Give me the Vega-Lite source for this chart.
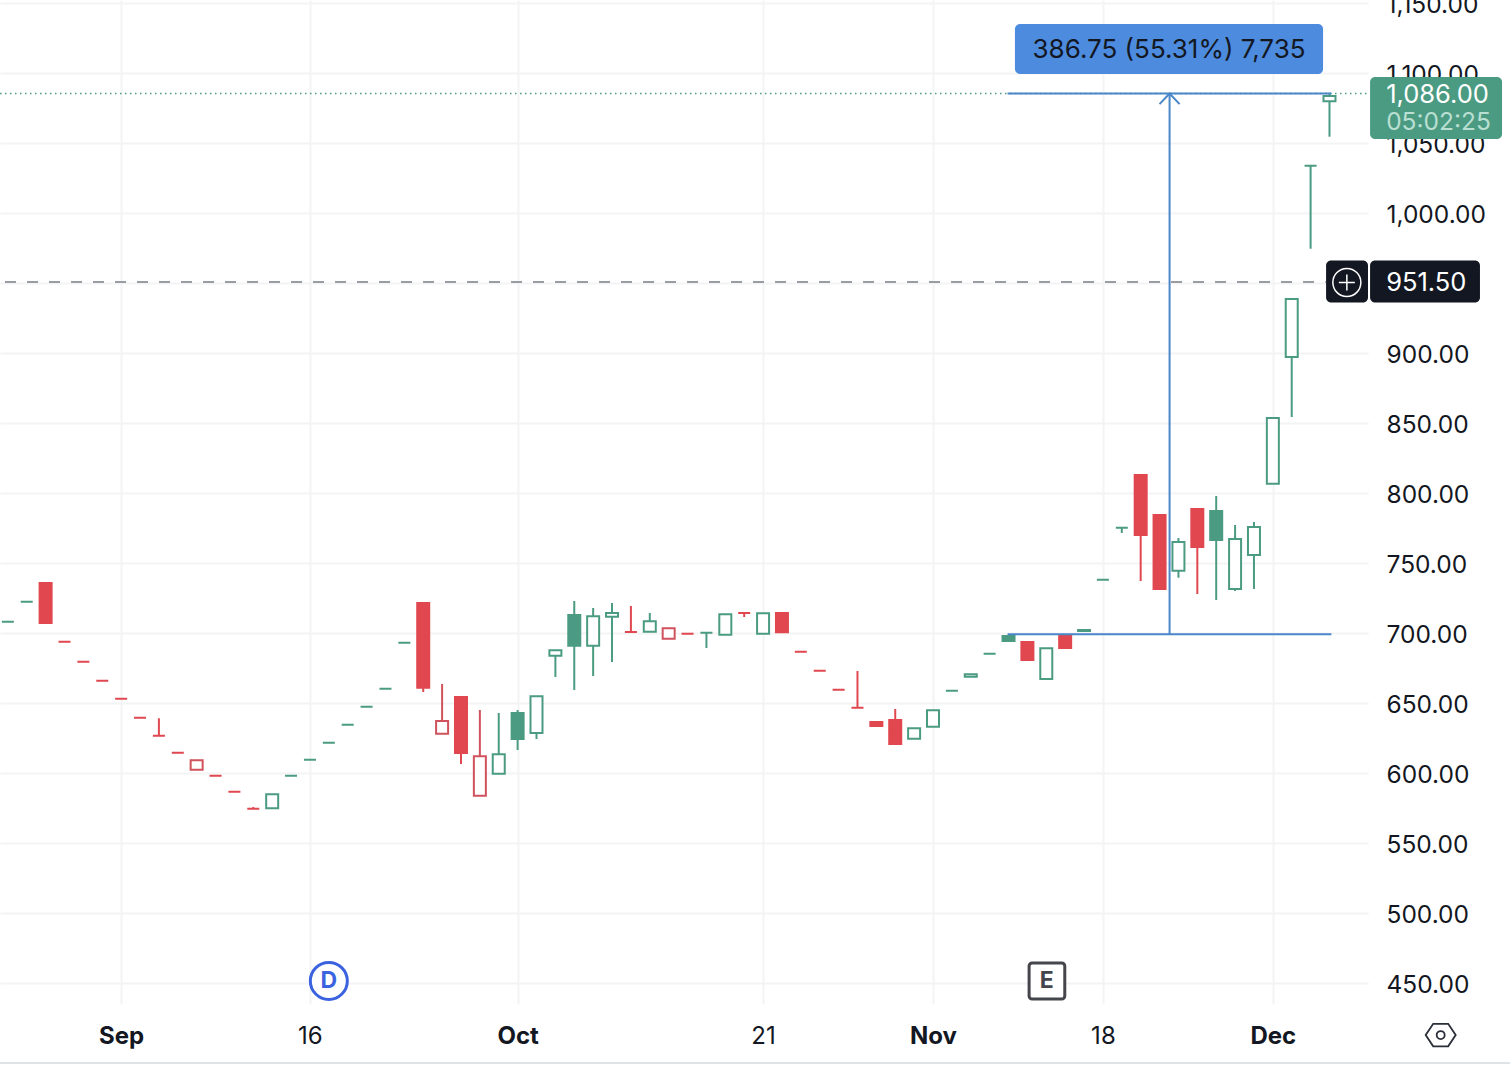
{"$schema":"https://vega.github.io/schema/vega-lite/v6.json","width":1368,"height":1004,"autosize":{"type":"none"},"padding":{"left":0,"top":0,"right":142,"bottom":72},"background":"#ffffff","config":{"view":{"stroke":null},"font":"Inter"},
"resolve":{"scale":{"color":"independent","fill":"independent","stroke":"independent"}},
"datasets":{"candles":[
{"i":0,"open":708.3,"close":708.3,"high":708.3,"low":708.3,"kind":"up-solid"},
{"i":1,"open":722.5,"close":722.5,"high":722.5,"low":722.5,"kind":"up-solid"},
{"i":2,"open":736,"close":707.4,"high":736,"low":707.4,"kind":"down-solid"},
{"i":3,"open":694,"close":694,"high":694,"low":694,"kind":"down-solid"},
{"i":4,"open":679.7,"close":679.7,"high":679.7,"low":679.7,"kind":"down-solid"},
{"i":5,"open":666.15,"close":666.15,"high":666.15,"low":666.15,"kind":"down-solid"},
{"i":6,"open":653.3,"close":653.3,"high":653.3,"low":653.3,"kind":"down-solid"},
{"i":7,"open":639.7,"close":639.7,"high":639.7,"low":639.7,"kind":"down-solid"},
{"i":8,"open":626.85,"close":626.85,"high":639.3,"low":626.85,"kind":"down-solid"},
{"i":9,"open":614.7,"close":614.7,"high":614.7,"low":614.7,"kind":"down-solid"},
{"i":10,"open":602.55,"close":609.3,"high":609.3,"low":602.55,"kind":"down-hollow"},
{"i":11,"open":598.3,"close":598.3,"high":598.3,"low":598.3,"kind":"down-solid"},
{"i":12,"open":586.85,"close":586.85,"high":586.85,"low":586.85,"kind":"down-solid"},
{"i":13,"open":574.7,"close":574.7,"high":575.9,"low":574.7,"kind":"down-solid"},
{"i":14,"open":575,"close":585,"high":585,"low":575,"kind":"up-hollow"},
{"i":15,"open":598.3,"close":598.3,"high":598.3,"low":598.3,"kind":"up-solid"},
{"i":16,"open":609.7,"close":609.7,"high":609.7,"low":609.7,"kind":"up-solid"},
{"i":17,"open":621.85,"close":621.85,"high":621.85,"low":621.85,"kind":"up-solid"},
{"i":18,"open":634.7,"close":634.7,"high":634.7,"low":634.7,"kind":"up-solid"},
{"i":19,"open":647.55,"close":647.55,"high":647.55,"low":647.55,"kind":"up-solid"},
{"i":20,"open":660.45,"close":660.45,"high":660.45,"low":660.45,"kind":"up-solid"},
{"i":21,"open":693.3,"close":693.3,"high":693.3,"low":693.3,"kind":"up-solid"},
{"i":22,"open":721.65,"close":661.15,"high":721.65,"low":658.05,"kind":"down-solid"},
{"i":23,"open":628.3,"close":637.35,"high":663.8,"low":628.3,"kind":"down-hollow"},
{"i":24,"open":654.5,"close":614.5,"high":654.5,"low":606.65,"kind":"down-solid"},
{"i":25,"open":584,"close":612.15,"high":645.2,"low":584,"kind":"down-hollow"},
{"i":26,"open":599.7,"close":613.55,"high":643.05,"low":599.7,"kind":"up-hollow"},
{"i":27,"open":643.05,"close":624.5,"high":645.2,"low":616.65,"kind":"up-solid"},
{"i":28,"open":628.8,"close":655,"high":655,"low":624.5,"kind":"up-hollow"},
{"i":29,"open":684,"close":687.85,"high":687.85,"low":668.8,"kind":"up-hollow"},
{"i":30,"open":713.05,"close":691.15,"high":723.05,"low":659.5,"kind":"up-solid"},
{"i":31,"open":691.15,"close":712.15,"high":718.05,"low":669.5,"kind":"up-hollow"},
{"i":32,"open":711.85,"close":714.5,"high":721.65,"low":679.5,"kind":"up-hollow"},
{"i":33,"open":700.95,"close":700.95,"high":719.5,"low":700.95,"kind":"down-solid"},
{"i":34,"open":701.15,"close":708.55,"high":714.5,"low":701.15,"kind":"up-hollow"},
{"i":35,"open":696.15,"close":703.55,"high":703.55,"low":696.15,"kind":"down-hollow"},
{"i":36,"open":699.7,"close":699.7,"high":699.7,"low":699.7,"kind":"down-solid"},
{"i":37,"open":700.45,"close":700.45,"high":700.45,"low":689.5,"kind":"up-solid"},
{"i":38,"open":699,"close":713.55,"high":713.55,"low":699,"kind":"up-hollow"},
{"i":39,"open":714.5,"close":714.5,"high":714.5,"low":711.65,"kind":"down-solid"},
{"i":40,"open":699.7,"close":714.3,"high":714.3,"low":699.7,"kind":"up-hollow"},
{"i":41,"open":714.5,"close":700.7,"high":714.5,"low":700.7,"kind":"down-solid"},
{"i":42,"open":686.85,"close":686.85,"high":686.85,"low":686.85,"kind":"down-solid"},
{"i":43,"open":673.3,"close":673.3,"high":673.3,"low":673.3,"kind":"down-solid"},
{"i":44,"open":659.7,"close":659.7,"high":659.7,"low":659.7,"kind":"down-solid"},
{"i":45,"open":646.85,"close":646.85,"high":673.05,"low":646.85,"kind":"down-solid"},
{"i":46,"open":636.65,"close":633.8,"high":636.65,"low":633.8,"kind":"down-solid"},
{"i":47,"open":638.05,"close":620.95,"high":645.95,"low":620.95,"kind":"down-solid"},
{"i":48,"open":624.7,"close":632.15,"high":632.15,"low":624.7,"kind":"up-hollow"},
{"i":49,"open":633.3,"close":645,"high":645,"low":633.3,"kind":"up-hollow"},
{"i":50,"open":659,"close":659,"high":659,"low":659,"kind":"up-solid"},
{"i":51,"open":669,"close":670.7,"high":670.7,"low":669,"kind":"up-hollow"},
{"i":52,"open":685.45,"close":685.45,"high":685.45,"low":685.45,"kind":"up-solid"},
{"i":53,"open":698.05,"close":694.5,"high":698.05,"low":694.5,"kind":"up-solid"},
{"i":54,"open":693.8,"close":680.95,"high":693.8,"low":680.95,"kind":"down-solid"},
{"i":55,"open":667.35,"close":689.3,"high":689.3,"low":667.35,"kind":"up-hollow"},
{"i":56,"open":698.8,"close":689.5,"high":698.8,"low":689.5,"kind":"down-solid"},
{"i":57,"open":702.35,"close":701.65,"high":702.35,"low":701.65,"kind":"up-solid"},
{"i":58,"open":738.3,"close":738.3,"high":738.3,"low":738.3,"kind":"up-solid"},
{"i":59,"open":775.45,"close":775.45,"high":775.45,"low":771.65,"kind":"up-solid"},
{"i":60,"open":813.05,"close":770.2,"high":813.05,"low":737.35,"kind":"down-solid"},
{"i":61,"open":784.5,"close":731.65,"high":784.5,"low":731.65,"kind":"down-solid"},
{"i":62,"open":744.7,"close":765.2,"high":768.05,"low":739.7,"kind":"up-hollow"},
{"i":63,"open":788.8,"close":761.65,"high":788.8,"low":728.05,"kind":"down-solid"},
{"i":64,"open":787.35,"close":766.65,"high":798.05,"low":723.8,"kind":"up-solid"},
{"i":65,"open":731.65,"close":767.35,"high":777.35,"low":730.2,"kind":"up-hollow"},
{"i":66,"open":755.95,"close":775.95,"high":779.5,"low":731.65,"kind":"up-hollow"},
{"i":67,"open":806.85,"close":853.8,"high":853.8,"low":806.85,"kind":"up-hollow"},
{"i":68,"open":897.35,"close":938.8,"high":938.8,"low":854.5,"kind":"up-hollow"},
{"i":69,"open":1034,"close":1034,"high":1034,"low":974.7,"kind":"up-solid"},
{"i":70,"open":1080,"close":1083.8,"high":1086,"low":1054.7,"kind":"up-hollow"}
]},
"layer":[
{"data":{"name":"candles"},"mark":{"type":"rule","strokeWidth":2},"encoding":{
"x":{"field":"i","type":"quantitative","scale":{"domain":[-0.416,72.04],"nice":false,"zero":false,"padding":0},"axis":{"title":null,"values":[6,16,27,40,49,58,67],"labelExpr":"{6:'Sep',16:'16',27:'Oct',40:'21',49:'Nov',58:'18',67:'Dec'}[datum.value]","labelFontSize":24,"labelFont":"Inter","labelColor":"#131722","labelFontWeight":{"condition":{"test":"datum.value==6||datum.value==27||datum.value==49||datum.value==67","value":"bold"},"value":"normal"},"labelBaseline":"middle","labelPadding":32,"labelOverlap":false,"labelFlush":false,"labelBound":false,"domain":false,"ticks":false,"grid":true,"gridColor":"#f3f4f6","gridWidth":2}},
"y":{"field":"low","type":"quantitative","scale":{"domain":[435.2,1152.36],"nice":false,"zero":false,"padding":0},"axis":{"orient":"right","title":null,"values":[450,500,550,600,650,700,750,800,850,900,950,1000,1050,1100,1150],"labelExpr":"datum.value==950?'':format(datum.value,',.2f')","labelFontSize":24.5,"labelFont":"Inter","labelColor":"#131722","labelAlign":"left","labelBaseline":"middle","labelPadding":18,"labelOffset":2,"labelOverlap":false,"labelFlush":false,"labelBound":false,"domain":false,"ticks":false,"grid":true,"gridColor":"#f3f4f6","gridWidth":2}},
"y2":{"field":"high"},
"color":{"field":"kind","type":"nominal","scale":{"domain":["up-solid","up-hollow","down-solid","down-hollow"],"range":["#4b9b83","#4b9b83","#e0474f","#d0525c"]},"legend":null}}},
{"data":{"name":"candles"},"mark":{"type":"bar","size":12,"strokeWidth":2},"encoding":{
"x":{"field":"i","type":"quantitative","scale":{"domain":[-0.416,72.04],"nice":false,"zero":false,"padding":0}},
"y":{"field":"open","type":"quantitative","scale":{"domain":[435.2,1152.36],"nice":false,"zero":false,"padding":0}},
"y2":{"field":"close"},
"fill":{"field":"kind","type":"nominal","scale":{"domain":["up-solid","up-hollow","down-solid","down-hollow"],"range":["#4b9b83","#ffffff","#e0474f","#ffffff"]},"legend":null},
"stroke":{"field":"kind","type":"nominal","scale":{"domain":["up-solid","up-hollow","down-solid","down-hollow"],"range":["#4b9b83","#4b9b83","#e0474f","#d0525c"]},"legend":null}}},
{"data":{"values":[{"from":-0.416,"to":72.04,"price":1085.5}]},"mark":{"type":"rule","strokeWidth":1.5,"strokeDash":[1.5,3.5],"color":"#4b9b83"},"encoding":{
"x":{"field":"from","type":"quantitative","scale":{"domain":[-0.416,72.04],"nice":false,"zero":false,"padding":0}},"x2":{"field":"to"},
"y":{"field":"price","type":"quantitative","scale":{"domain":[435.2,1152.36],"nice":false,"zero":false,"padding":0}}}},
{"data":{"values":[{"from":-0.15,"to":69.8,"price":951}]},"mark":{"type":"rule","strokeWidth":2,"strokeDash":[11,11],"color":"#9a9ca3"},"encoding":{
"x":{"field":"from","type":"quantitative","scale":{"domain":[-0.416,72.04],"nice":false,"zero":false,"padding":0}},"x2":{"field":"to"},
"y":{"field":"price","type":"quantitative","scale":{"domain":[435.2,1152.36],"nice":false,"zero":false,"padding":0}}}},
{"data":{"values":[{"from":52.95,"to":70.1,"low":699.25,"high":699.25},{"from":52.95,"to":70.1,"low":1085.6,"high":1085.6},{"from":61.53,"to":61.53,"low":699.25,"high":1085.6}]},"mark":{"type":"rule","strokeWidth":2,"color":"#4a86c8"},"encoding":{
"x":{"field":"from","type":"quantitative","scale":{"domain":[-0.416,72.04],"nice":false,"zero":false,"padding":0}},"x2":{"field":"to"},
"y":{"field":"low","type":"quantitative","scale":{"domain":[435.2,1152.36],"nice":false,"zero":false,"padding":0}},"y2":{"field":"high"}}},
{"data":{"values":[{"i":61,"price":1078},{"i":61.53,"price":1085.6},{"i":62.06,"price":1078}]},"mark":{"type":"line","strokeWidth":2,"color":"#4a86c8"},"encoding":{
"x":{"field":"i","type":"quantitative","scale":{"domain":[-0.416,72.04],"nice":false,"zero":false,"padding":0}},
"y":{"field":"price","type":"quantitative","scale":{"domain":[435.2,1152.36],"nice":false,"zero":false,"padding":0}}}},
{"data":{"values":[{"a":53.34,"b":69.66,"c":1135.2,"d":1099.5,"tag":"measure"},{"a":72.15,"b":79.14,"c":1097.36,"d":1053.07,"tag":"last"},{"a":69.82,"b":72.04,"c":966.2,"d":936.2,"tag":"pin"},{"a":72.15,"b":77.97,"c":966.2,"d":936.2,"tag":"pin"}]},"mark":{"type":"rect","cornerRadius":5},"encoding":{
"x":{"field":"a","type":"quantitative","scale":{"domain":[-0.416,72.04],"nice":false,"zero":false,"padding":0}},"x2":{"field":"b"},
"y":{"field":"c","type":"quantitative","scale":{"domain":[435.2,1152.36],"nice":false,"zero":false,"padding":0}},"y2":{"field":"d"},
"color":{"field":"tag","type":"nominal","scale":{"domain":["measure","last","pin"],"range":["#4d8bde","#4b9b83","#131722"]},"legend":null}}},
{"data":{"values":[{"a":54.09,"b":55.98,"c":464.5,"d":438.8}]},"mark":{"type":"rect","cornerRadius":3,"fill":"#ffffff","stroke":"#45464c","strokeWidth":3},"encoding":{
"x":{"field":"a","type":"quantitative","scale":{"domain":[-0.416,72.04],"nice":false,"zero":false,"padding":0}},"x2":{"field":"b"},
"y":{"field":"c","type":"quantitative","scale":{"domain":[435.2,1152.36],"nice":false,"zero":false,"padding":0}},"y2":{"field":"d"}}},
{"data":{"values":[{"i":17,"price":451.7}]},"mark":{"type":"point","shape":"circle","size":1369,"filled":true,"fill":"#ffffff","stroke":"#3b63e0","strokeWidth":3,"opacity":1},"encoding":{
"x":{"field":"i","type":"quantitative","scale":{"domain":[-0.416,72.04],"nice":false,"zero":false,"padding":0}},
"y":{"field":"price","type":"quantitative","scale":{"domain":[435.2,1152.36],"nice":false,"zero":false,"padding":0}}}},
{"data":{"values":[{"i":70.92,"price":950.6}]},"mark":{"type":"point","shape":"circle","size":784,"stroke":"#ffffff","strokeWidth":1.5,"opacity":1},"encoding":{
"x":{"field":"i","type":"quantitative","scale":{"domain":[-0.416,72.04],"nice":false,"zero":false,"padding":0}},
"y":{"field":"price","type":"quantitative","scale":{"domain":[435.2,1152.36],"nice":false,"zero":false,"padding":0}}}},
{"data":{"values":[{"i":70.92,"price":950.6}]},"mark":{"type":"point","shape":"M-1,0H1M0,-1V1","size":256,"stroke":"#ffffff","strokeWidth":1.5,"opacity":1},"encoding":{
"x":{"field":"i","type":"quantitative","scale":{"domain":[-0.416,72.04],"nice":false,"zero":false,"padding":0}},
"y":{"field":"price","type":"quantitative","scale":{"domain":[435.2,1152.36],"nice":false,"zero":false,"padding":0}}}},
{"data":{"values":[{"i":75.89,"price":413}]},"mark":{"type":"point","shape":"M-1,0L-0.5,-0.75L0.5,-0.75L1,0L0.5,0.75L-0.5,0.75Z","size":900,"stroke":"#2a2e39","strokeWidth":1.8,"opacity":1},"encoding":{
"x":{"field":"i","type":"quantitative","scale":{"domain":[-0.416,72.04],"nice":false,"zero":false,"padding":0}},
"y":{"field":"price","type":"quantitative","scale":{"domain":[435.2,1152.36],"nice":false,"zero":false,"padding":0}}}},
{"data":{"values":[{"i":75.89,"price":413}]},"mark":{"type":"point","shape":"circle","size":64,"stroke":"#2a2e39","strokeWidth":1.8,"opacity":1},"encoding":{
"x":{"field":"i","type":"quantitative","scale":{"domain":[-0.416,72.04],"nice":false,"zero":false,"padding":0}},
"y":{"field":"price","type":"quantitative","scale":{"domain":[435.2,1152.36],"nice":false,"zero":false,"padding":0}}}},
{"data":{"values":[{"from":-0.416,"to":79.56,"price":393.07}]},"mark":{"type":"rule","strokeWidth":2,"color":"#e0e3e6"},"encoding":{
"x":{"field":"from","type":"quantitative","scale":{"domain":[-0.416,72.04],"nice":false,"zero":false,"padding":0}},"x2":{"field":"to"},
"y":{"field":"price","type":"quantitative","scale":{"domain":[435.2,1152.36],"nice":false,"zero":false,"padding":0}}}},
{"data":{"values":[{"i":61.5,"price":1116.3,"label":"386.75 (55.31%) 7,735"}]},"mark":{"type":"text","fontSize":26,"font":"Inter","align":"center","baseline":"middle","color":"#131722"},"encoding":{
"x":{"field":"i","type":"quantitative","scale":{"domain":[-0.416,72.04],"nice":false,"zero":false,"padding":0}},
"y":{"field":"price","type":"quantitative","scale":{"domain":[435.2,1152.36],"nice":false,"zero":false,"padding":0}},
"text":{"field":"label"}}},
{"data":{"values":[{"i":17,"price":451.7,"label":"D","tag":"blue"},{"i":55.02,"price":451.7,"label":"E","tag":"grey"}]},"mark":{"type":"text","fontSize":23,"font":"Inter","fontWeight":"bold","align":"center","baseline":"middle"},"encoding":{
"x":{"field":"i","type":"quantitative","scale":{"domain":[-0.416,72.04],"nice":false,"zero":false,"padding":0}},
"y":{"field":"price","type":"quantitative","scale":{"domain":[435.2,1152.36],"nice":false,"zero":false,"padding":0}},
"text":{"field":"label"},
"color":{"field":"tag","type":"nominal","scale":{"domain":["blue","grey"],"range":["#3b63e0","#45464c"]},"legend":null}}},
{"data":{"values":[{"i":73.0,"price":1084.6,"label":"1,086.00","tag":"white"},{"i":73.0,"price":950.2,"label":"951.50","tag":"white"}]},"mark":{"type":"text","fontSize":25.5,"font":"Inter","align":"left","baseline":"middle"},"encoding":{
"x":{"field":"i","type":"quantitative","scale":{"domain":[-0.416,72.04],"nice":false,"zero":false,"padding":0}},
"y":{"field":"price","type":"quantitative","scale":{"domain":[435.2,1152.36],"nice":false,"zero":false,"padding":0}},
"text":{"field":"label"},
"color":{"field":"tag","type":"nominal","scale":{"domain":["white"],"range":["#ffffff"]},"legend":null}}},
{"data":{"values":[{"i":73.0,"price":1064.6,"label":"05:02:25"}]},"mark":{"type":"text","fontSize":24.5,"font":"Inter","align":"left","baseline":"middle","color":"#b9dfd2"},"encoding":{
"x":{"field":"i","type":"quantitative","scale":{"domain":[-0.416,72.04],"nice":false,"zero":false,"padding":0}},
"y":{"field":"price","type":"quantitative","scale":{"domain":[435.2,1152.36],"nice":false,"zero":false,"padding":0}},
"text":{"field":"label"}}}
]}
